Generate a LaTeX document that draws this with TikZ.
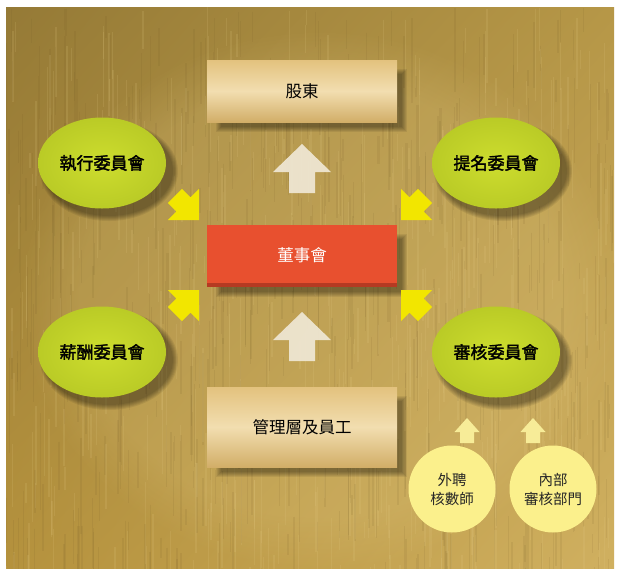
\documentclass[tikz,border=0pt]{standalone}
\usepackage{fontspec}
\newfontfamily\cjk{Noto Sans CJK TC}
\newfontfamily\cjkb{Noto Sans CJK TC}[FakeBold=2]
\usetikzlibrary{shapes.geometric,shadings,fadings}
\definecolor{gUL}{HTML}{957A36}
\definecolor{gUR}{HTML}{B69747}
\definecolor{gLL}{HTML}{B5923D}
\definecolor{gLR}{HTML}{D0B060}
\definecolor{streakD}{HTML}{6E5524}
\definecolor{streakL}{HTML}{E8D08A}
\definecolor{tanT}{HTML}{E3C27E}
\definecolor{tanM}{HTML}{F2DEB0}
\definecolor{tanB}{HTML}{D2AE68}
\definecolor{boardR}{HTML}{E8502F}
\definecolor{boardD}{HTML}{B53A22}
\definecolor{lime}{HTML}{CDDD2E}
\definecolor{limeD}{HTML}{BACB26}
\definecolor{paleY}{HTML}{FBF08C}
\definecolor{arrY}{HTML}{F7EC98}
\definecolor{brightY}{HTML}{F2E600}
\definecolor{creamW}{HTML}{EFE7D4}
\tikzset{
  boxnode/.style={rectangle, minimum width=190pt, inner sep=0pt, font=\cjk\fontsize{16.5}{18}\selectfont, text=black},
  comm/.style={ellipse, minimum width=128pt, minimum height=91pt, inner sep=0pt, inner color=lime, outer color=limeD, font=\cjkb\fontsize{17}{18}\selectfont, text=black},
  audit/.style={circle, minimum size=87pt, inner sep=0pt, fill=paleY, font=\cjk\fontsize{14.5}{19}\selectfont, text=black!85, align=center},
  upblock/.pic={\fill[creamW, opacity=0.93] (0,0) -- (29,28) -- (13,28) -- (13,49) -- (-13,49) -- (-13,28) -- (-29,28) -- cycle;},
  smallup/.pic={\fill[arrY] (0,0) -- (12.5,14) -- (7,14) -- (7,25) -- (-7,25) -- (-7,14) -- (-12.5,14) -- cycle;},
  cornerarrow/.pic={\fill[brightY] (0,0) -- (-22,22) -- (-22,10) -- (-34,10) -- (-34,-10) -- (-22,-10) -- (-22,-22) -- cycle;}
}
\begin{document}
\begin{tikzpicture}[x=1pt,y=-1pt]
\useasboundingbox (0,0) rectangle (621,568);
\fill[white] (0,0) rectangle (621,568);
% background
\shade[upper left=gUL, upper right=gUR, lower left=gLL, lower right=gLR] (6,7) rectangle (614,568);
\begin{scope}
\clip (6,7) rectangle (614,568);
\fill[streakL, opacity=0.2, path fading=circle with fuzzy edge 20 percent] (320,300) ellipse (300 and 270);
\pgfmathsetseed{11}
\foreach \i in {1,...,520}{
  \pgfmathsetmacro\xx{6+608*rnd}
  \pgfmathsetmacro\yy{7+561*rnd}
  \pgfmathsetmacro\ll{15+90*rnd}
  \pgfmathsetmacro\ww{0.5+1.8*rnd}
  \draw[streakD, opacity=0.1, line width=\ww pt] (\xx,\yy) -- (\xx,\yy+\ll);
}
\foreach \i in {1,...,420}{
  \pgfmathsetmacro\xx{6+608*rnd}
  \pgfmathsetmacro\yy{7+561*rnd}
  \pgfmathsetmacro\ll{15+80*rnd}
  \pgfmathsetmacro\ww{0.5+1.6*rnd}
  \draw[streakL, opacity=0.14, line width=\ww pt] (\xx,\yy) -- (\xx,\yy+\ll);
}
\end{scope}
% shadows for boxes
\foreach \a/\b/\c/\d in {207/60/397/122, 207/225/397/287, 207/387/397/467}{
  \foreach \k in {0,...,5}{
    \fill[black, opacity=0.07] (\a+8-\k+6,\b+8-\k+6) rectangle (\c+5+\k,\d+5+\k);
  }
}
% ellipse shadows
\foreach \cx/\cy in {102/163, 102/352, 496/163, 496/352}{
  \foreach \k in {0,...,5}{
    \fill[black, opacity=0.07] (\cx+7,\cy+8) ellipse ({64+\k} and {45+\k});
  }
}
% boxes
\shade[top color=tanT, bottom color=tanB, middle color=tanM] (207,60) rectangle (397,122);
\shade[top color=tanT, bottom color=tanB, middle color=tanM] (207,387) rectangle (397,467);
\fill[boardD] (207,225) rectangle (397,287);
\fill[boardR] (207,225) rectangle (397,283);
\node[boxnode, minimum height=62pt] (sh) at (302,91) {股東};
\node[boxnode, minimum height=62pt, text=white] (bd) at (302,255) {董事會};
\node[boxnode, minimum height=80pt] (mg) at (302,427) {管理層及員工};
% white block arrows
\pic at (302,144) {upblock};
\pic at (302,312) {upblock};
% committees
\node[comm] (ex) at (102,163) {執行委員會};
\node[comm] (rm) at (102,352) {薪酬委員會};
\node[comm] (nm) at (496,163) {提名委員會};
\node[comm] (au) at (496,352) {審核委員會};
% yellow corner arrows
\pic[rotate=-45] at (199,220) {cornerarrow};
\pic[rotate=45] at (199,290) {cornerarrow};
\pic[rotate=-135] at (401,220) {cornerarrow};
\pic[rotate=135] at (401,290) {cornerarrow};
% audit sources
\node[audit] (ext) at (452,489) {外聘\\核數師};
\node[audit] (int) at (553,489) {內部\\審核部門};
\pic at (467,418) {smallup};
\pic at (533,418) {smallup};
\end{tikzpicture}
\end{document}
